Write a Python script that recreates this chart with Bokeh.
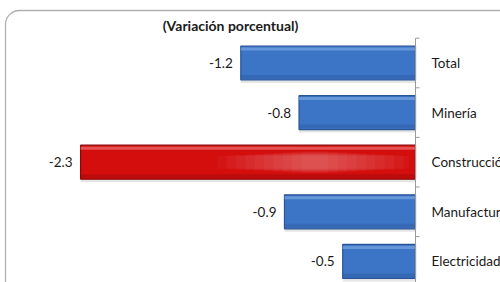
from bokeh.plotting import figure
from bokeh.models import Range1d, ColumnDataSource, Label
from bokeh.core.properties import value
from bokeh.embed import file_html
from bokeh.resources import INLINE

categories = ["Total", "Minería", "Construcción", "Manufactura", "Electricidad"]
values = [-1.2, -0.8, -2.3, -0.9, -0.5]
labels = ["-1.2", "-0.8", "-2.3", "-0.9", "-0.5"]
title_text = "(Variación porcentual)"

W, H = 500, 282
PX_X = 145.6          # px per unit
X_ZERO = 415          # fig px of zero
PX_Y = 49.6
Y0 = 62.5

x0 = -X_ZERO / PX_X
x1 = (W - X_ZERO) / PX_X
ytop = -Y0 / PX_Y
ybot = (H - Y0) / PX_Y

p = figure(width=W, height=H, output_backend="svg", toolbar_location=None,
           x_range=Range1d(x0, x1), y_range=Range1d(ybot, ytop),
           min_border=0, background_fill_color="white", border_fill_color="white")
p.axis.visible = False
p.grid.visible = False
p.outline_line_color = None

# rounded frame border
p.quad(left=[x0 + 5 / PX_X], right=[x1 + 20 / PX_X], top=[ytop + 10 / PX_Y],
       bottom=[ybot + 20 / PX_Y], fill_color=None, line_color="#b0b0b0",
       line_width=1.3, border_radius=14)

ys = list(range(len(categories)))
is_red = [c == "Construcción" for c in categories]
fill = ["#d40d0d" if r else "#3d75c6" for r in is_red]
dark = ["#8e0808" if r else "#2a5494" for r in is_red]
light = ["#f08080" if r else "#80aee8" for r in is_red]
src = ColumnDataSource(dict(y=ys, v=values, cat=categories, lab=labels,
                            fill=fill, dark=dark, light=light,
                            ysh=[y + 3 / PX_Y for y in ys],
                            yhl=[y - 14 / PX_Y for y in ys],
                            ylo=[y + 14 / PX_Y for y in ys]))

bh = 34 / PX_Y
# shadow
p.hbar(y="ysh", left="v", right=0, height=bh, source=src,
       fill_color="#000000", fill_alpha=0.10, line_color=None)
# main bar
p.hbar(y="y", left="v", right=0, height=bh, source=src,
       fill_color="fill", line_color="dark", line_width=1.2)

# soft glossy highlight on the red bar (stacked translucent layers)
red_y = [y for y, r in zip(ys, is_red) if r]
red_v = [v for v, r in zip(values, is_red) if r]
red_src = ColumnDataSource(dict(y=red_y, v=red_v))
center, steps = 0.30, 10
for k in range(steps):
    half = 0.04 + 0.028 * k
    red_src.data["l%d" % k] = [v * (center + half) for v in red_v]
    red_src.data["r%d" % k] = [v * max(center - half, 0.02) for v in red_v]
    p.hbar(y="y", left="l%d" % k, right="r%d" % k,
           height=(22 - k) / PX_Y, source=red_src,
           fill_color="#ffffff", fill_alpha=0.035, line_color=None)

# highlight strip at top
p.hbar(y="yhl", left="v", right=0, height=3 / PX_Y, source=src,
       fill_color="light", fill_alpha=0.6, line_color=None)
# darker bottom strip
p.hbar(y="ylo", left="v", right=0, height=4 / PX_Y, source=src,
       fill_color="dark", fill_alpha=0.35, line_color=None)

# axis line and ticks
n = len(categories)
p.segment(x0=[0], x1=[0], y0=[-0.5], y1=[n - 0.5 + 0.6],
          line_color="#9a9a9a", line_width=1)
p.segment(x0=[0] * (n + 1), x1=[4 / PX_X] * (n + 1),
          y0=[i - 0.5 for i in range(n + 1)],
          y1=[i - 0.5 for i in range(n + 1)],
          line_color="#9a9a9a", line_width=1)

# value labels
p.text(x="v", y="y", text="lab", source=src, x_offset=-8, text_align="right",
       text_baseline="middle", text_font=value("Lato"), text_font_size="13.5px",
       text_color="#1a1a1a")
# category labels
p.text(x=0, y="y", text="cat", source=src, x_offset=16, text_align="left",
       text_baseline="middle", text_font=value("Lato"), text_font_size="13.5px",
       text_color="#1a1a1a")

p.add_layout(Label(x=(230 - X_ZERO) / PX_X, y=(25 - Y0) / PX_Y, text=title_text,
                   text_align="center", text_baseline="middle",
                   text_font="Lato", text_font_style="bold",
                   text_font_size="14px", text_color="#1a1a1a"))

open("out.html", "w").write(file_html(p, INLINE))
